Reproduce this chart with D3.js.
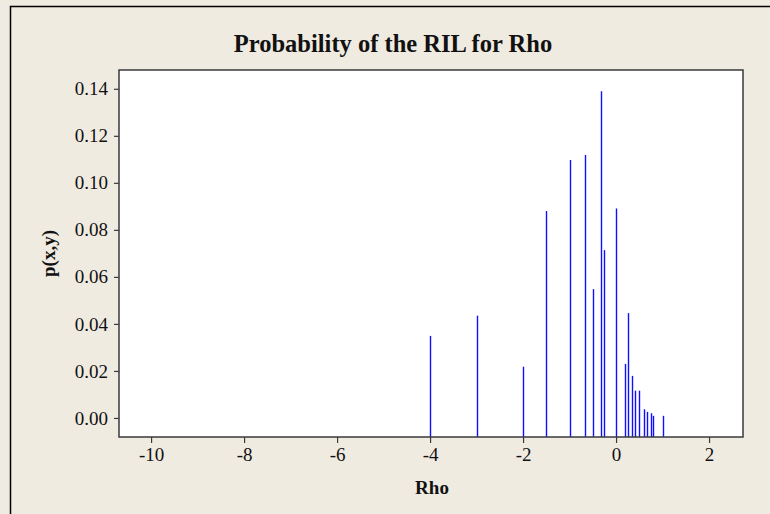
<!DOCTYPE html>
<html>
<head>
<meta charset="utf-8">
<script src="https://cdn.jsdelivr.net/npm/d3@7"></script>
<style>
  html, body { margin: 0; padding: 0; background: #f0ebe1; }
  svg { display: block; }
</style>
</head>
<body>
<svg id="chart" width="770" height="514"></svg>
<script>
const rho  = [-4, -3, -2, -1.5, -1, -0.667, -0.5, -0.333, -0.25, 0, 0.2, 0.25, 0.333, 0.4, 0.5, 0.6, 0.667, 0.75, 0.8, 1];
const prob = [0.0349, 0.0435, 0.0218, 0.0880, 0.1097, 0.1118, 0.0548, 0.1390, 0.0714, 0.0891, 0.0230, 0.0446, 0.0179, 0.0116, 0.0116, 0.0037, 0.0026, 0.0020, 0.0009, 0.0009];
const xTicks = [-10, -8, -6, -4, -2, 0, 2];
const yTicks = [0, 0.02, 0.04, 0.06, 0.08, 0.10, 0.12, 0.14];
const title = "Probability of the RIL for Rho";
const xLabel = "Rho";
const yLabel = "p(x,y)";

const W = 770, H = 514;
const plot = { left: 119, right: 743, top: 70, bottom: 437 };
const svg = d3.select("#chart");
const serif = "'Liberation Serif', 'Times New Roman', serif";

// background & frame
svg.append("rect").attr("x", 0).attr("y", 0).attr("width", W).attr("height", H).attr("fill", "#f0ebe1");
svg.append("path").attr("d", `M10.5,${H} L10.5,6.5 L${W},6.5`).attr("fill", "none").attr("stroke", "#000").attr("stroke-width", 1.5);

const x = d3.scaleLinear().domain([-10.69, 2.73]).range([plot.left, plot.right]);
const y = d3.scaleLinear().domain([-0.0081, 0.148]).range([plot.bottom, plot.top]);

svg.append("rect")
  .attr("x", plot.left).attr("y", plot.top)
  .attr("width", plot.right - plot.left).attr("height", plot.bottom - plot.top)
  .attr("fill", "#fff");

// lines
svg.append("g").selectAll("line").data(rho.map((r, i) => ({ r, p: prob[i] }))).join("line")
  .attr("x1", d => Math.round(x(d.r)) + 0.5).attr("x2", d => Math.round(x(d.r)) + 0.5)
  .attr("y1", y(y.domain()[0])).attr("y2", d => y(d.p))
  .attr("stroke", "#1010ff").attr("stroke-width", 1.4);

svg.append("rect")
  .attr("x", plot.left).attr("y", plot.top)
  .attr("width", plot.right - plot.left).attr("height", plot.bottom - plot.top)
  .attr("fill", "none").attr("stroke", "#3a3a3a").attr("stroke-width", 1.5);

// axes
const xAxis = svg.append("g").attr("transform", `translate(0,${plot.bottom})`)
  .call(d3.axisBottom(x).tickValues(xTicks).tickSize(6).tickPadding(5).tickFormat(d3.format("d")));
const yAxis = svg.append("g").attr("transform", `translate(${plot.left},0)`)
  .call(d3.axisLeft(y).tickValues(yTicks).tickSize(5).tickPadding(6).tickFormat(d3.format(".2f")));
[xAxis, yAxis].forEach(a => {
  a.select(".domain").remove();
  a.selectAll(".tick line").attr("stroke", "#3a3a3a").attr("stroke-width", 1.2);
  a.selectAll(".tick text").attr("font-family", serif).attr("font-size", 19).attr("fill", "#111");
});
xAxis.selectAll(".tick text").text(d => d < 0 ? "-" + Math.abs(d) : d);

// titles
svg.append("text").attr("x", 393).attr("y", 52).attr("text-anchor", "middle")
  .attr("font-family", serif).attr("font-weight", "bold").attr("font-size", 24.5).attr("fill", "#111").text(title);
svg.append("text").attr("x", (plot.left + plot.right) / 2 + 1).attr("y", 494).attr("text-anchor", "middle")
  .attr("font-family", serif).attr("font-weight", "bold").attr("font-size", 19).attr("fill", "#111").text(xLabel);
svg.append("text").attr("transform", `translate(55,${(plot.top + plot.bottom) / 2}) rotate(-90)`)
  .attr("text-anchor", "middle")
  .attr("font-family", serif).attr("font-weight", "bold").attr("font-size", 19).attr("fill", "#111").text(yLabel);
</script>
</body>
</html>
